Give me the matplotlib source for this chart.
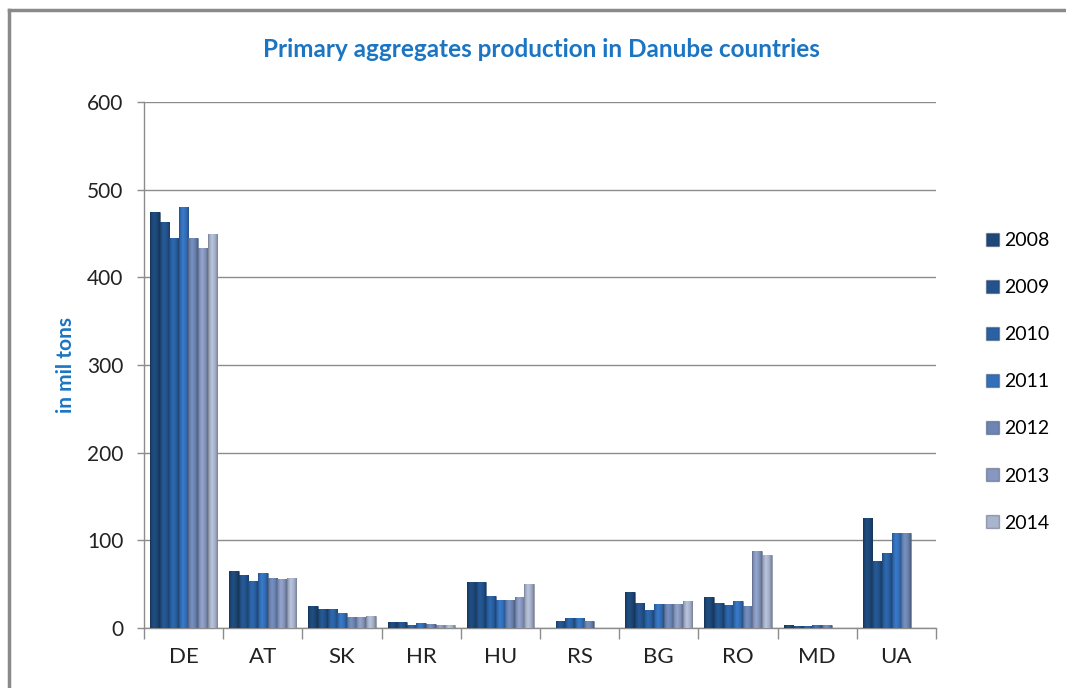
import numpy as np
import matplotlib
matplotlib.use("Agg")
import matplotlib.pyplot as plt
from matplotlib.lines import Line2D
from matplotlib.patches import Patch
from matplotlib.colors import to_rgb

countries = ["DE", "AT", "SK", "HR", "HU", "RS", "BG", "RO", "MD", "UA"]
years = ["2008", "2009", "2010", "2011", "2012", "2013", "2014"]
nan = np.nan
v2008 = [475, 65, 25, 7, 52, nan, 41, 35, 3.4, 125]
v2009 = [463, 61, 22, 7, 52, 8.4, 29, 28, 2.7, 76]
v2010 = [445, 54, 22, 3.4, 36, 11.4, 21, 26, 2.7, 86]
v2011 = [480, 63, 17, 5.3, 32, 11.4, 27, 31, 3.8, 108]
v2012 = [445, 57, 12, 4, 32, 8, 27, 25.5, 3, 108]
v2013 = [434, 56, 13, 3.5, 35, nan, 27, 88, nan, nan]
v2014 = [449, 57, 14, 3, 50.5, nan, 31, 83, nan, nan]
series = [v2008, v2009, v2010, v2011, v2012, v2013, v2014]

colors = ["#1E4878", "#23538C", "#2A61A3", "#3470BA", "#6C85B2", "#8797BF", "#A9B4CD"]

plt.rcParams['font.family'] = ['Lato', 'DejaVu Sans']
fig = plt.figure(figsize=(10.66, 6.88), dpi=100)
ax = fig.add_axes([0.1351, 0.0872, 0.878 - 0.1351, 0.8517 - 0.0872])

# horizontal shading profile for a cylinder-like look
prof_x = np.linspace(0, 1, 32)
profile = np.interp(prof_x, [0, 0.12, 0.4, 0.75, 1.0], [0.7, 0.92, 1.1, 0.95, 0.72])

n = len(series)
group_w = 0.85
bw = group_w / n
x = np.arange(len(countries))
for i, (vals, c) in enumerate(zip(series, colors)):
    pos = x - group_w / 2 + bw * (i + 0.5)
    bars = ax.bar(pos, vals, width=bw, color=c, edgecolor=(0.1, 0.15, 0.25, 0.35),
                  linewidth=0.6, zorder=3)
    base = np.array(to_rgb(c))
    grad = np.clip(profile[:, None] * base[None, :], 0, 1)[None, :, :]
    for b in bars:
        h = b.get_height()
        if not np.isfinite(h) or h <= 0:
            continue
        x0 = b.get_x()
        im = ax.imshow(grad, extent=(x0, x0 + b.get_width(), 0, h), aspect="auto",
                       zorder=3.5, interpolation="bilinear")
        im.set_clip_path(b)

ax.set_xlim(-0.5, len(countries) - 0.5)
ax.set_ylim(0, 600)
ax.set_yticks(np.arange(0, 601, 100))
ax.yaxis.grid(True, color="#8C8C8C", linewidth=1.0, zorder=0)
ax.set_axisbelow(True)
ax.set_xticks(x)
ax.set_xticklabels(countries, fontsize=16, color="#222222")
ax.set_xticks(np.arange(-0.5, len(countries), 1.0), minor=True)
ax.tick_params(axis="x", which="major", length=0, pad=14)
ax.tick_params(axis="x", which="minor", length=8, color="#8C8C8C", width=1)
ax.tick_params(axis="y", length=5, color="#8C8C8C", width=1, labelsize=15, labelcolor="#222222", pad=10)
for s in ["top", "right"]:
    ax.spines[s].set_visible(False)
for s in ["left", "bottom"]:
    ax.spines[s].set_color("#8C8C8C")
    ax.spines[s].set_linewidth(1.0)

ax.set_ylabel("in mil tons", fontsize=15, fontweight="bold", color="#1B75C3", labelpad=8)
fig.text(0.508, 0.928, "Primary aggregates production in Danube countries",
         ha="center", va="center", fontsize=17.5, fontweight="bold", color="#1B75C3")

handles = [Patch(facecolor=c, edgecolor=(0.1, 0.15, 0.25, 0.35), label=y) for c, y in zip(colors, years)]
fig.legend(handles=handles, loc="center left", bbox_to_anchor=(0.918, 0.445), frameon=False,
           fontsize=14, handlelength=0.65, handleheight=0.65, handletextpad=0.25,
           labelspacing=1.55, borderaxespad=0)

fig.add_artist(Line2D([0.0085, 0.0085], [0, 0.986], transform=fig.transFigure, color="#8A8A8A", linewidth=2.5))
fig.add_artist(Line2D([0.0085, 1.0], [0.986, 0.986], transform=fig.transFigure, color="#8A8A8A", linewidth=2.5))

fig.savefig("out.png", dpi=100)
